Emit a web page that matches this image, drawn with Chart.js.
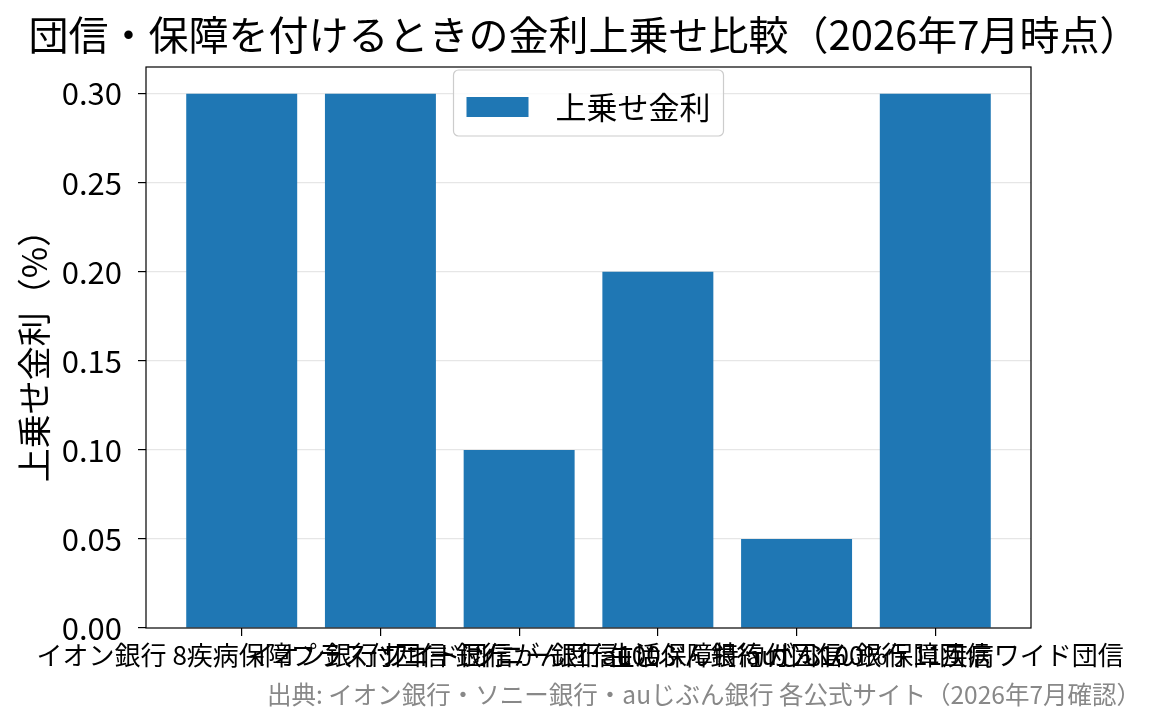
<!DOCTYPE html>
<html>
<head>
<meta charset="utf-8">
<script src="https://cdn.jsdelivr.net/npm/chart.js@4"></script>
<style>
  body { margin: 0; background: #fff; }
</style>
</head>
<body>
<canvas id="chart" width="1168" height="725"></canvas>
<script>
// data
var labels = [
    "イオン銀行 8疾病保障プラス付団信",
    "イオン銀行 ワイド団信",
    "ソニー銀行 がん団信100",
    "ソニー銀行 生活保障特約付団信",
    "auじぶん銀行 がん100%保障団信",
    "auじぶん銀行 11疾病ワイド団信"
];
var values = [0.30, 0.30, 0.10, 0.20, 0.05, 0.30];
var yTicks = [0.00, 0.05, 0.10, 0.15, 0.20, 0.25, 0.30];
var seriesName = "上乗せ金利";
var sourceNote = "出典: イオン銀行・ソニー銀行・auじぶん銀行 各公式サイト（2026年7月確認）";

var FONT = "'Noto Sans CJK JP', 'Noto Sans', sans-serif";
var BLUE = "#1f77b4";

// axes box (matplotlib style frame)
var framePlugin = {
    id: "frame",
    afterDatasetsDraw: function (chart) {
        var a = chart.chartArea, ctx = chart.ctx;
        ctx.save();
        ctx.strokeStyle = "#000";
        ctx.lineWidth = 1.2;
        ctx.strokeRect(a.left, a.top, a.right - a.left, a.bottom - a.top);
        ctx.restore();
    }
};

// legend drawn inside the plot, upper center
var innerLegend = {
    id: "innerLegend",
    afterDraw: function (chart) {
        var a = chart.chartArea, ctx = chart.ctx;
        var ds = chart.data.datasets[0];
        ctx.save();
        ctx.font = "31px " + FONT;
        var tw = ctx.measureText(ds.label).width;
        var w = 13 + 62 + 27 + tw + 13, h = 66;
        var x = (a.left + a.right) / 2 - w / 2, y = a.top + 3;
        ctx.fillStyle = "rgba(255,255,255,0.8)";
        ctx.strokeStyle = "#cccccc";
        ctx.lineWidth = 1.2;
        ctx.beginPath();
        ctx.roundRect(x, y, w, h, 5);
        ctx.fill();
        ctx.stroke();
        ctx.fillStyle = ds.backgroundColor;
        ctx.fillRect(x + 13, y + 27, 62, 20);
        ctx.fillStyle = "#000";
        ctx.textBaseline = "middle";
        ctx.fillText(ds.label, x + 13 + 62 + 27, y + 37);
        ctx.restore();
    }
};

// source note, bottom right
var notePlugin = {
    id: "note",
    afterDraw: function (chart) {
        var ctx = chart.ctx;
        ctx.save();
        ctx.font = "24.5px " + FONT;
        ctx.fillStyle = "#888888";
        ctx.textAlign = "right";
        ctx.textBaseline = "middle";
        ctx.fillText(sourceNote, 1141, 695);
        ctx.restore();
    }
};

new Chart(document.getElementById("chart"), {
    type: "bar",
    data: {
        datasets: [{
            label: seriesName,
            data: values.map(function (v, i) { return { x: i, y: v }; }),
            backgroundColor: BLUE,
            borderWidth: 0,
            barPercentage: 0.8,
            categoryPercentage: 1.0
        }]
    },
    options: {
        responsive: false,
        animation: false,
        layout: { padding: 0 },
        plugins: {
            legend: { display: false },
            tooltip: { enabled: false },
            title: {
                display: true,
                text: "団信・保障を付けるときの金利上乗せ比較（2026年7月時点）",
                color: "#000",
                font: { family: FONT, size: 40, weight: "normal", lineHeight: 1.2 },
                padding: { top: 11, bottom: 8 }
            }
        },
        scales: {
            x: {
                type: "linear",
                offset: false,
                min: -0.69,
                max: 5.69,
                afterBuildTicks: function (s) {
                    s.ticks = labels.map(function (l, i) { return { value: i }; });
                },
                afterFit: function (s) { s.height = 97; },
                ticks: {
                    autoSkip: false,
                    maxRotation: 0,
                    minRotation: 0,
                    padding: 4,
                    color: "#000",
                    font: { family: FONT, size: 26 },
                    callback: function (v) { return labels[v]; }
                },
                grid: {
                    offset: false,
                    drawOnChartArea: false,
                    tickColor: "#000",
                    tickLength: 8,
                    lineWidth: 1.2
                },
                border: { display: false }
            },
            y: {
                min: 0,
                max: 0.315,
                afterBuildTicks: function (s) {
                    s.ticks = yTicks.map(function (v) { return { value: v }; });
                },
                afterFit: function (s) { s.width = 146; },
                title: {
                    display: true,
                    text: "上乗せ金利（%）",
                    color: "#000",
                    font: { family: FONT, size: 34 },
                    padding: { top: 14, bottom: 0 }
                },
                ticks: {
                    color: "#000",
                    padding: 16,
                    font: { family: FONT, size: 31 },
                    callback: function (v) { return Number(v).toFixed(2); }
                },
                grid: {
                    color: function (c) { return c.tick && c.tick.value === 0 ? "rgba(0,0,0,0)" : "#e6e6e6"; },
                    tickColor: "#000",
                    tickLength: 8,
                    lineWidth: 1.2
                },
                border: { display: false }
            },
            // empty right axis keeps the right margin of the plot
            yRight: {
                position: "right",
                display: true,
                ticks: { display: false },
                grid: { display: false },
                border: { display: false },
                afterFit: function (s) { s.width = 137; }
            }
        }
    },
    plugins: [framePlugin, innerLegend, notePlugin]
});
</script>
</body>
</html>
